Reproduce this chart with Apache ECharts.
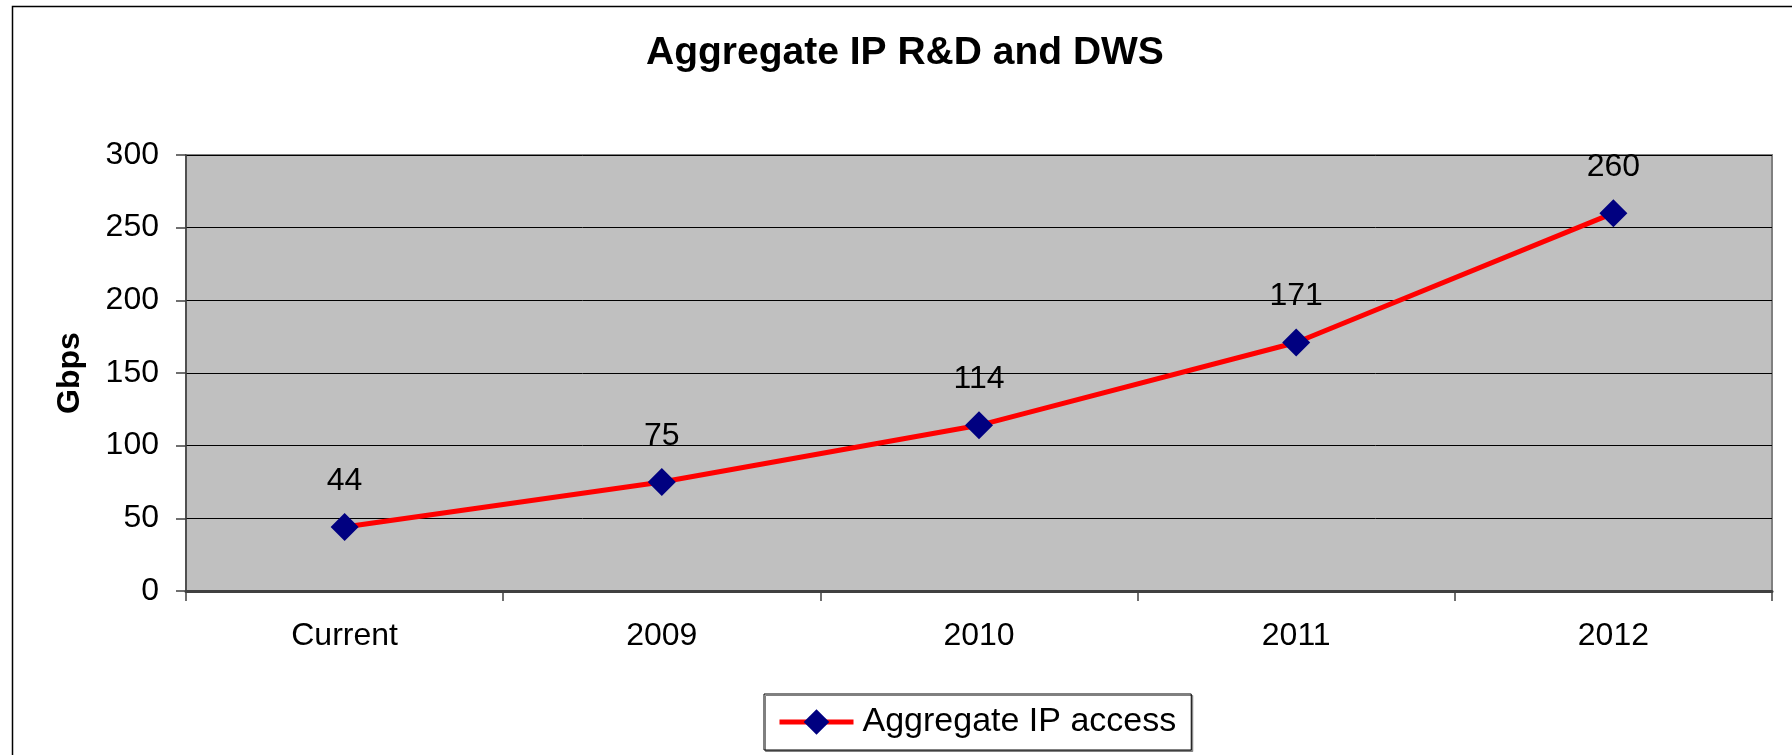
<!DOCTYPE html>
<html>
<head>
<meta charset="utf-8">
<script src="https://cdn.jsdelivr.net/npm/echarts@6/dist/echarts.min.js"></script>
<style>
html,body{margin:0;padding:0;background:#fff;}
#chart{width:1792px;height:755px;}
</style>
</head>
<body>
<div id="chart"></div>
<script>
const categories = ['Current', '2009', '2010', '2011', '2012'];
const aggregateIPAccess = [44, 75, 114, 171, 260];
const seriesName = 'Aggregate IP access';
const chartTitle = 'Aggregate IP R&D and DWS';
const yAxisName = 'Gbps';
const yMin = 0, yMax = 300, yStep = 50;

const FONT = '"Liberation Sans", Arial, sans-serif';
const chart = echarts.init(document.getElementById('chart'), null, {renderer: 'canvas'});
chart.setOption({
  backgroundColor: '#ffffff',
  animation: false,
  textStyle: {fontFamily: FONT, color: '#000'},
  graphic: [{
    type: 'rect',
    left: 10, top: 4,
    shape: {width: 1820, height: 800},
    style: {fill: 'none', stroke: '#000', lineWidth: 1.5},
    z: -10
  }],
  title: {
    text: chartTitle,
    left: 646, top: 34,
    padding: 0,
    textStyle: {fontFamily: FONT, fontSize: 39, fontWeight: 'bold', color: '#000'}
  },
  legend: {
    left: 764, top: 694,
    padding: [11, 15, 11, 13],
    backgroundColor: '#fff',
    borderColor: '#000',
    borderWidth: 1,
    shadowColor: '#808080',
    shadowOffsetX: 1.5,
    shadowOffsetY: 1.5,
    shadowBlur: 0,
    itemWidth: 74,
    itemHeight: 32,
    textStyle: {fontFamily: FONT, fontSize: 34, color: '#000', padding: [0, 0, 0, 4]},
    data: [{
      name: seriesName,
      itemStyle: {color: '#000080'},
      lineStyle: {color: '#FF0000', width: 5}
    }]
  },
  grid: {
    left: 186, right: 20, top: 155, bottom: 164,
    show: true,
    backgroundColor: '#C0C0C0',
    borderColor: '#808080',
    borderWidth: 2
  },
  xAxis: {
    type: 'category',
    data: categories,
    boundaryGap: true,
    axisLine: {show: true, lineStyle: {color: '#404040', width: 3}},
    axisTick: {show: true, length: 10, lineStyle: {color: '#404040', width: 1.5}},
    axisLabel: {fontFamily: FONT, fontSize: 32, color: '#000', margin: 29},
    splitLine: {show: false}
  },
  yAxis: {
    type: 'value',
    min: yMin, max: yMax, interval: yStep,
    name: yAxisName,
    nameLocation: 'middle',
    nameRotate: 90,
    nameGap: 100,
    nameTextStyle: {fontFamily: FONT, fontSize: 32, fontWeight: 'bold', color: '#000'},
    axisLine: {show: true, lineStyle: {color: '#404040', width: 1.5}},
    axisTick: {show: true, length: 10, lineStyle: {color: '#404040', width: 1.5}},
    axisLabel: {fontFamily: FONT, fontSize: 32, color: '#000', margin: 27},
    splitLine: {show: true, lineStyle: {color: '#000', width: 1}}
  },
  series: [{
    name: seriesName,
    type: 'line',
    data: aggregateIPAccess,
    symbol: 'diamond',
    symbolSize: 28,
    showAllSymbol: true,
    lineStyle: {color: '#FF0000', width: 5},
    itemStyle: {color: '#000080'},
    label: {
      show: true, position: 'top', distance: 16,
      fontFamily: FONT, fontSize: 32, color: '#000'
    }
  }]
});
</script>
</body>
</html>
